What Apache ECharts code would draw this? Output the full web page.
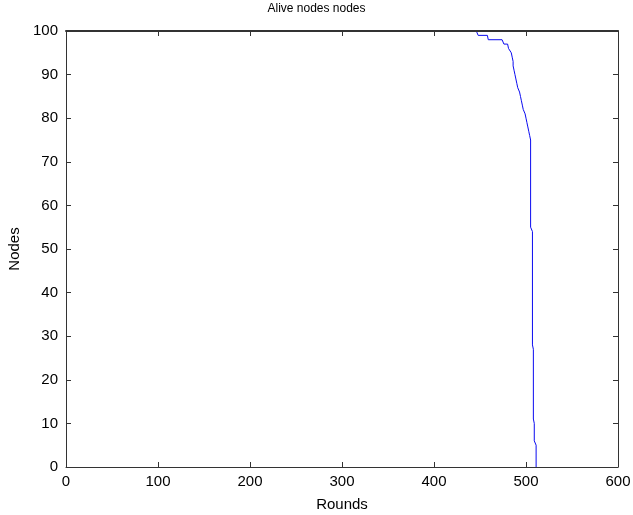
<!DOCTYPE html>
<html>
<head>
<meta charset="utf-8">
<script src="https://cdn.jsdelivr.net/npm/echarts@6/dist/echarts.min.js"></script>
<style>html,body{margin:0;padding:0;background:#fff;}#c{width:633px;height:515px;}</style>
</head>
<body>
<div id="c"></div>
<script>
var titleText = 'Alive nodes nodes';
var xName = 'Rounds';
var yName = 'Nodes';
var rounds = [0,446,448,458,459,474,476,480,481,483,484,485,486,486,487,488,489,490,491,493,494,495,496,497,499,500,501,502,503,504,505,505,507,507,508,508,509,509,511,511];
var alive  = [100,100,99,99,98,98,97,97,96,96,95,94,93,92,91,90,89,88,87,86,85,84,83,82,81,80,79,78,77,76,75,55,54,28,27,11,10,6,5,0];
var data = rounds.map(function(r,i){return [r, alive[i]];});
var font = 'Liberation Sans, Arial, sans-serif';
var axColor = '#333333';
var lblSize = 15;
var chart = echarts.init(document.getElementById('c'), null, {renderer:'canvas'});
function axisBase(extra){
  var o = {
    type:'value', splitLine:{show:false},
    axisLine:{show:true, onZero:false, lineStyle:{color:axColor, width:1}},
    axisTick:{show:true, inside:true, length:5, lineStyle:{color:axColor}},
    axisLabel:{color:'#000', fontFamily:font, fontSize:lblSize},
    z:10
  };
  for (var k in extra) o[k]=extra[k];
  return o;
}
chart.setOption({
  animation:false,
  backgroundColor:'#fff',
  title:{text:titleText, left:'center', top:-2, textStyle:{fontFamily:font, fontSize:12, fontWeight:'normal', color:'#000'}},
  grid:{left:66, top:31, right:15, bottom:48, containLabel:false, outerBoundsMode:'none'},
  xAxis:[
    axisBase({min:0, max:600, interval:100, position:'bottom', name:xName, nameLocation:'middle', nameGap:30,
      nameTextStyle:{fontFamily:font, fontSize:lblSize, color:'#000'}, axisLabel:{color:'#000', fontFamily:font, fontSize:lblSize, margin:7}}),
    axisBase({min:0, max:600, interval:100, position:'top', axisLabel:{show:false},
      axisLine:{show:true, onZero:false, lineStyle:{color:axColor, width:2}}})
  ],
  yAxis:[
    axisBase({min:0, max:100, interval:10, position:'left', name:yName, nameLocation:'middle', nameGap:44,
      nameTextStyle:{fontFamily:font, fontSize:lblSize, color:'#000'}, axisLabel:{color:'#000', fontFamily:font, fontSize:lblSize, margin:8}}),
    axisBase({min:0, max:100, interval:10, position:'right', axisLabel:{show:false}})
  ],
  series:[{
    type:'line', data:data, showSymbol:false, symbol:'none',
    lineStyle:{color:'#0a0af0', width:1}, z:2, clip:true
  }]
});
</script>
</body>
</html>
